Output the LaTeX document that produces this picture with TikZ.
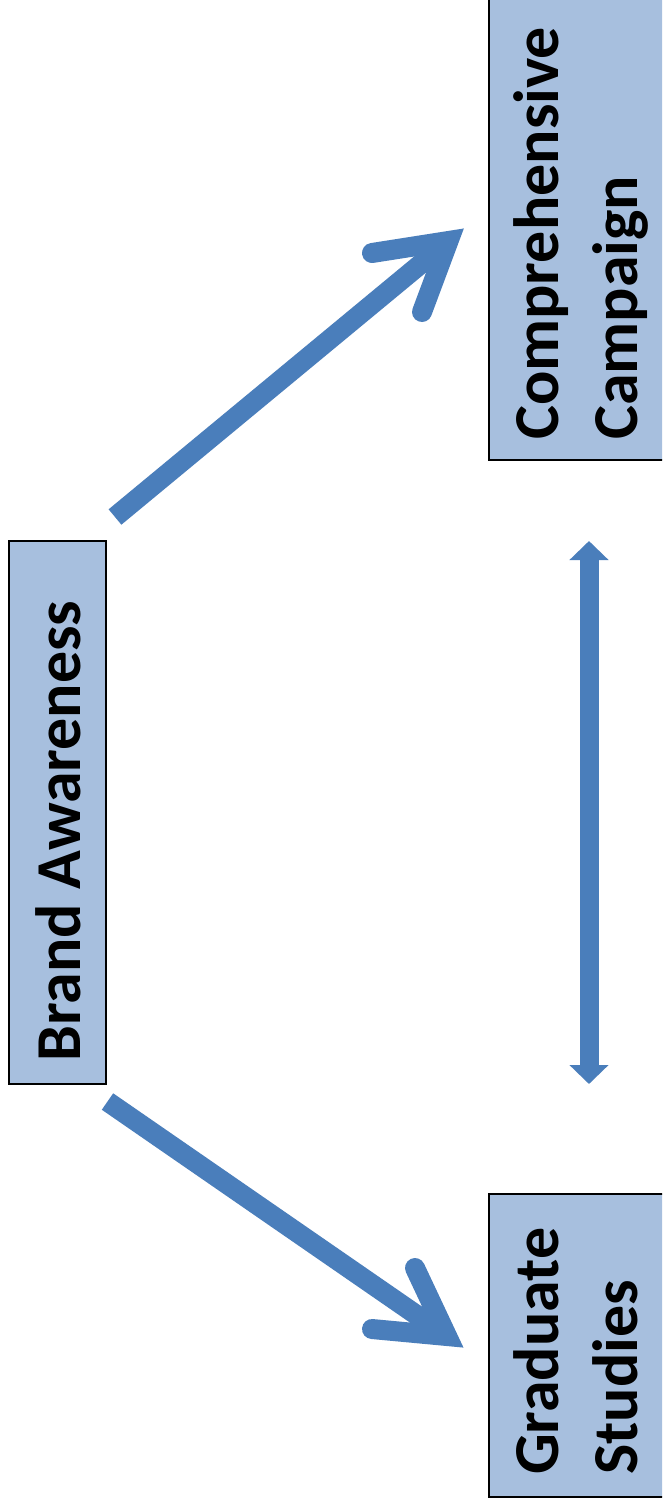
\documentclass[tikz,border=0pt]{standalone}
\usepackage{fontspec}
\setmainfont{Carlito}
\usetikzlibrary{arrows.meta}
\definecolor{boxfill}{HTML}{A7BFDE}
\definecolor{arrowblue}{HTML}{4A7EBB}
\begin{document}
\begin{tikzpicture}[x=1pt,y=-1pt,
  boxstyle/.style={draw=black, line width=2pt, fill=boxfill},
  labelstyle/.style={rotate=90, inner sep=0pt, font=\bfseries\fontsize{64}{79}\selectfont, align=left, text=black},
  shaftstyle/.style={draw=arrowblue, line width=20pt, line cap=butt},
  headstyle/.style={draw=arrowblue, line width=20pt, line cap=round, line join=miter},
  dblstyle/.style={draw=arrowblue, line width=19pt, {Triangle[length=19pt,width=38pt]}-{Triangle[length=19pt,width=38pt]}}
]
\useasboundingbox (0,0) rectangle (662,1508);
\clip (0,0) rectangle (662,1508);
\fill[white] (0,0) rectangle (662,1508);

% boxes
\path[boxstyle] (9,541) rectangle (106,1084);
\node[inner sep=0pt, minimum width=97pt, minimum height=543pt] (brand) at (57.5,812.5) {};
\path[boxstyle] (489,-20) rectangle (700,460);
\node[inner sep=0pt, minimum width=211pt, minimum height=480pt] (comp) at (594.5,220) {};
\path[boxstyle] (489,1194) rectangle (700,1497);
\node[inner sep=0pt, minimum width=211pt, minimum height=303pt] (grad) at (594.5,1345.5) {};

% labels (base anchor = baseline of the last line)
\node[labelstyle, anchor=base west] (brandtxt) at (80,1062) {Brand Awareness};
\node[labelstyle, anchor=base west] (comptxt) at (637,440) {Comprehensive\\Campaign};
\node[labelstyle, anchor=base west] (gradtxt) at (637,1475) {Graduate\\Studies};

% upper arrow
\coordinate (us) at (115,517);
\coordinate (uv) at (448.5,241);
\coordinate (ua1) at (372,253);
\coordinate (ua2) at (422,312);
\draw[shaftstyle] (us) -- (uv);
\draw[headstyle] (ua1) -- (uv) -- (ua2);

% lower arrow
\coordinate (ls) at (107.5,1101.5);
\coordinate (lv) at (447,1336);
\coordinate (la1) at (372,1329);
\coordinate (la2) at (415,1268);
\draw[shaftstyle] (ls) -- (lv);
\draw[headstyle] (la1) -- (lv) -- (la2);

% double arrow
\coordinate (dt) at (589,541);
\coordinate (db) at (589,1084);
\draw[dblstyle] (dt) -- (db);
\end{tikzpicture}
\end{document}
